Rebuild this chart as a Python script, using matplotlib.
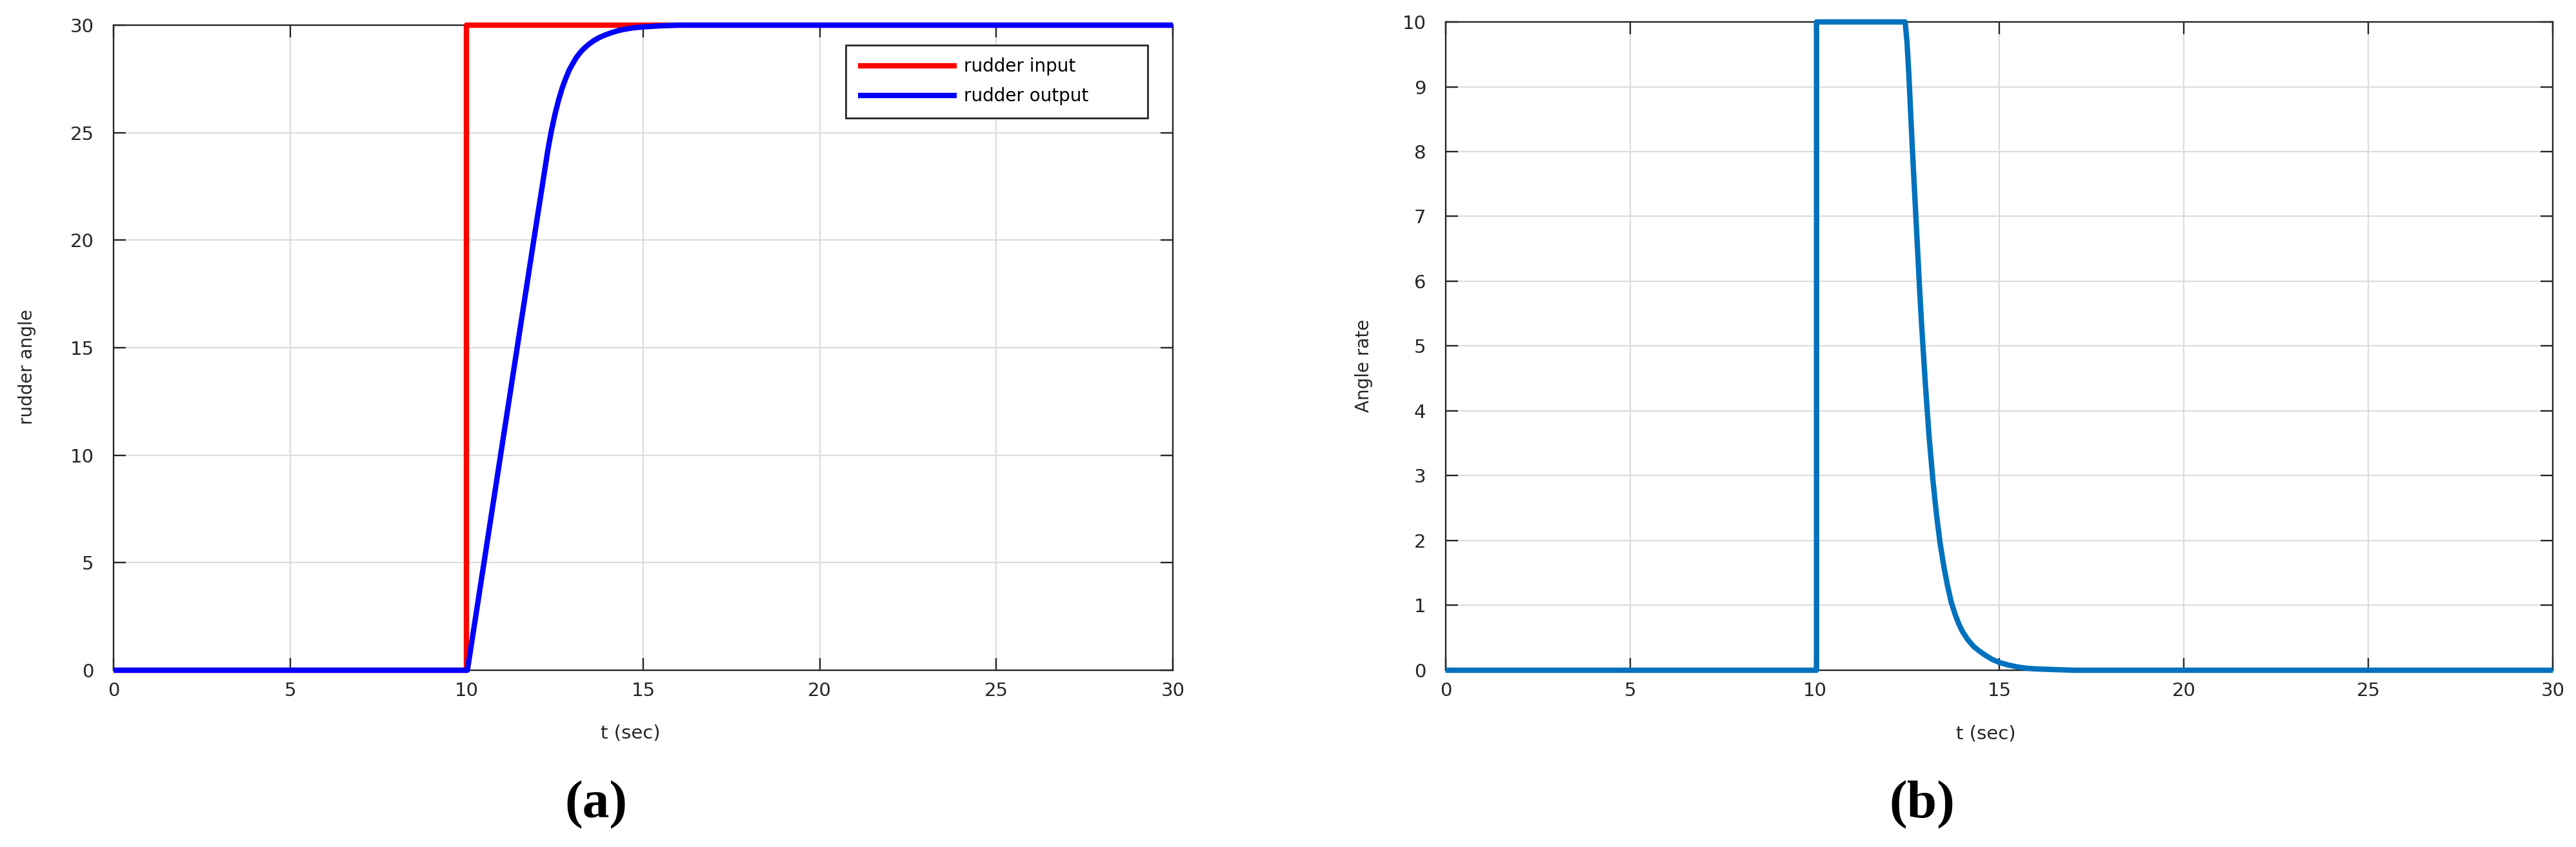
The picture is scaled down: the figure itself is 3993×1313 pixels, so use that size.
import matplotlib
matplotlib.use('Agg')
import matplotlib.pyplot as plt



# Data
# (a) rudder input: step at t = 10 s
t_input = [0, 10, 10, 30]
rudder_input = [0, 0, 30, 30]

# (a) rudder output: rate-limited ramp, then smooth approach to 30
t_output = [0, 10.02, 10.96, 11.9, 12.3, 12.4, 12.5, 12.6, 12.7, 12.8, 12.9,
            13.0, 13.1, 13.2, 13.3, 13.45, 13.6, 13.75, 13.9, 14.1, 14.3,
            14.5, 14.75, 15.0, 15.5, 16.0, 30]
rudder_output = [0, 0, 10, 20, 24.2, 25.1, 25.85, 26.5, 27.05, 27.5, 27.9,
                 28.2, 28.48, 28.7, 28.88, 29.1, 29.28, 29.42, 29.53, 29.65, 29.75,
                 29.82, 29.88, 29.92, 29.97, 30, 30]

# (b) angle rate
t_rate = [0, 10.05, 10.05, 12.45, 12.5, 12.55, 12.6, 12.65, 12.7, 12.75,
          12.8, 12.85, 12.9, 12.95, 13.0, 13.1, 13.2, 13.3, 13.4, 13.5,
          13.6, 13.7, 13.8, 13.9, 14.0, 14.15, 14.3, 14.45, 14.6, 14.8,
          15.0, 15.25, 15.5, 15.75, 16.0, 16.5, 17.0, 30]
angle_rate = [0, 0, 10, 10, 9.7, 9.2, 8.6, 8.0, 7.45, 6.9,
              6.35, 5.8, 5.3, 4.85, 4.4, 3.6, 2.95, 2.4, 1.95, 1.6,
              1.3, 1.05, 0.87, 0.72, 0.6, 0.47, 0.37, 0.3, 0.24, 0.17,
              0.12, 0.08, 0.05, 0.03, 0.02, 0.01, 0, 0]

x_ticks = [0, 5, 10, 15, 20, 25, 30]
y_ticks_a = [0, 5, 10, 15, 20, 25, 30]
y_ticks_b = list(range(0, 11))



plt.rcParams['font.family'] = 'DejaVu Sans'

fig = plt.figure(figsize=(39.93, 13.13), dpi=100)
fig.patch.set_facecolor('white')

ax_a = fig.add_axes([0.0441, 0.2087, 0.4112, 0.7616])
ax_b = fig.add_axes([0.5612, 0.2087, 0.4298, 0.7654])

spine_color = '#262626'


def style_axes(ax, yticks):
    ax.set_xlim(0, 30)
    ax.set_ylim(yticks[0], yticks[-1])
    ax.set_xticks(x_ticks)
    ax.set_yticks(yticks)
    ax.grid(True, color='#dcdcdc', linewidth=1.6)
    ax.set_axisbelow(True)
    for s in ax.spines.values():
        s.set_linewidth(1.7)
        s.set_color(spine_color)
    ax.tick_params(axis='both', direction='in', length=13.5, width=1.7,
                   colors=spine_color, labelsize=21,
                   top=True, right=True)
    ax.tick_params(axis='x', pad=13)
    ax.tick_params(axis='y', pad=22)
    ax.set_xlabel('t (sec)', fontsize=21, color=spine_color, va='center')
    ax.xaxis.set_label_coords(0.488, -0.098)


# Panel (a)
style_axes(ax_a, y_ticks_a)
ax_a.plot(t_input, rudder_input, color='#ff0000', linewidth=6,
          solid_capstyle='butt', clip_on=False, label='rudder input', zorder=3)
ax_a.plot(t_output, rudder_output, color='#0000ff', linewidth=6,
          solid_capstyle='butt', clip_on=False, label='rudder output', zorder=4)
ax_a.set_ylabel('rudder angle', fontsize=20, color=spine_color)
ax_a.yaxis.set_label_coords(-0.073, 0.47)

leg = ax_a.legend(loc='upper left', bbox_to_anchor=(0.691, 0.969, 0.285, 0.0),
                  mode='expand', fontsize=20, handlelength=5.5,
                  handletextpad=0.4, labelspacing=0.65, borderpad=0.7,
                  borderaxespad=0, fancybox=False, framealpha=1)
leg.get_frame().set_edgecolor(spine_color)
leg.get_frame().set_linewidth(2)

# Panel (b)
style_axes(ax_b, y_ticks_b)
ax_b.plot(t_rate, angle_rate, color='#0072bd', linewidth=6,
          solid_capstyle='butt', clip_on=False, zorder=3)
ax_b.set_ylabel('Angle rate', fontsize=20, color=spine_color)
ax_b.yaxis.set_label_coords(-0.066, 0.47)

# Sub-figure labels
fig.text(924 / 3993, 1 - 1248 / 1313, '(a)', fontsize=60, fontweight='bold',
         family='Liberation Serif', ha='center', va='center')
fig.text(2979 / 3993, 1 - 1248 / 1313, '(b)', fontsize=60, fontweight='bold',
         family='Liberation Serif', ha='center', va='center')

fig.savefig('out.png', dpi=100)
